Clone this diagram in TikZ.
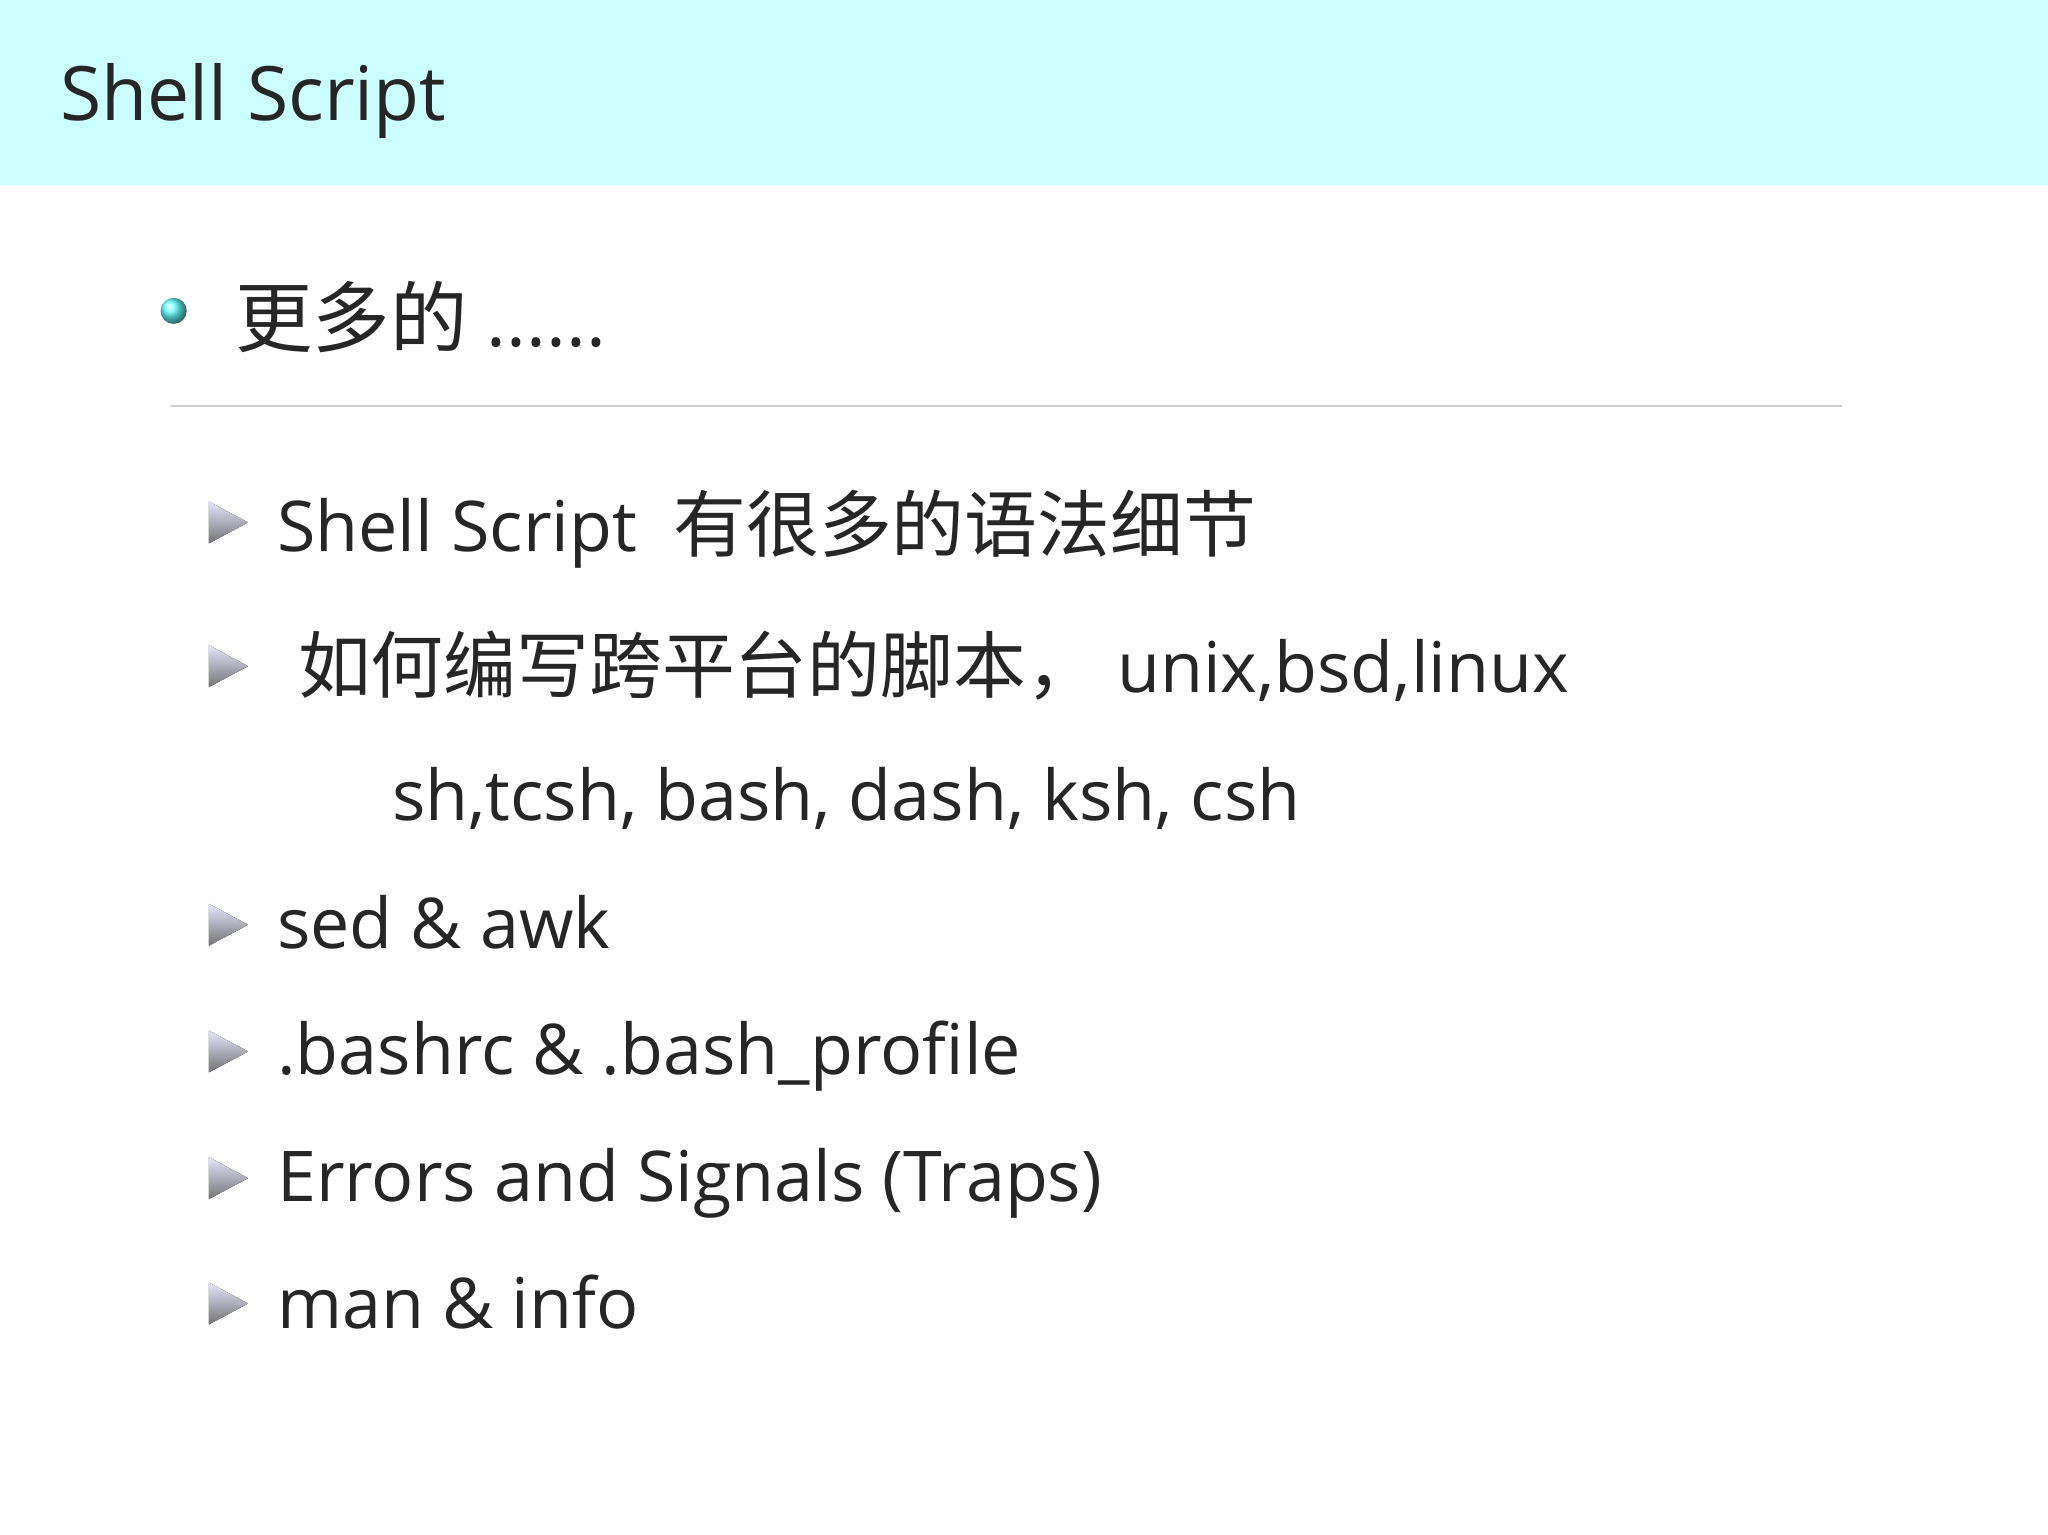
\documentclass[tikz,border=0pt]{standalone}
\usepackage{fontspec}
\setmainfont{Open Sans}
\newfontfamily\cjk{Noto Sans CJK SC}[Scale=1.04]
\definecolor{hdr}{HTML}{CCFFFF}
\begin{document}
\begin{tikzpicture}[x=1pt,y=-1pt,
  txt/.style={anchor=base west,inner sep=0pt,font=\fontsize{53.6}{60}\selectfont,text=black!85},
  tri/.style={shade,top color=blue!10,bottom color=black!55,draw=none}]
\useasboundingbox (0,0) rectangle (1568,1175);
\fill[white] (0,0) rectangle (1568,1175);
\fill[hdr] (0,0) rectangle (1568,142);
\node[txt,font=\fontsize{57.5}{64}\selectfont] (title) at (46,92) {Shell Script};
\shade[ball color=cyan!60] (133,238) circle (10);
\node[txt,font=\fontsize{57}{64}\selectfont] (h) at (180,265) {{\cjk 更多的} ......};
\draw[black!20,line width=1.2] (131,311) -- (1410,311);
\foreach \y in {400,510,708,805,902,998}{
  \fill[tri] (160,\y-16) -- (190,\y) -- (160,\y+16) -- cycle;}
\node[txt] (a) at (212,422) {Shell Script\ \ {\cjk 有很多的语法细节}};
\node[txt] (b) at (228,530) {{\cjk 如何编写跨平台的脚本，}\ unix,bsd,linux};
\node[txt] (c) at (300,628) {sh,tcsh, bash, dash, ksh, csh};
\node[txt] (d) at (212,726) {sed \& awk};
\node[txt] (e) at (212,823) {.bashrc \& .bash\_profile};
\node[txt] (f) at (212,920) {Errors and Signals (Traps)};
\node[txt] (g) at (212,1017) {man \& info};
\end{tikzpicture}
\end{document}
